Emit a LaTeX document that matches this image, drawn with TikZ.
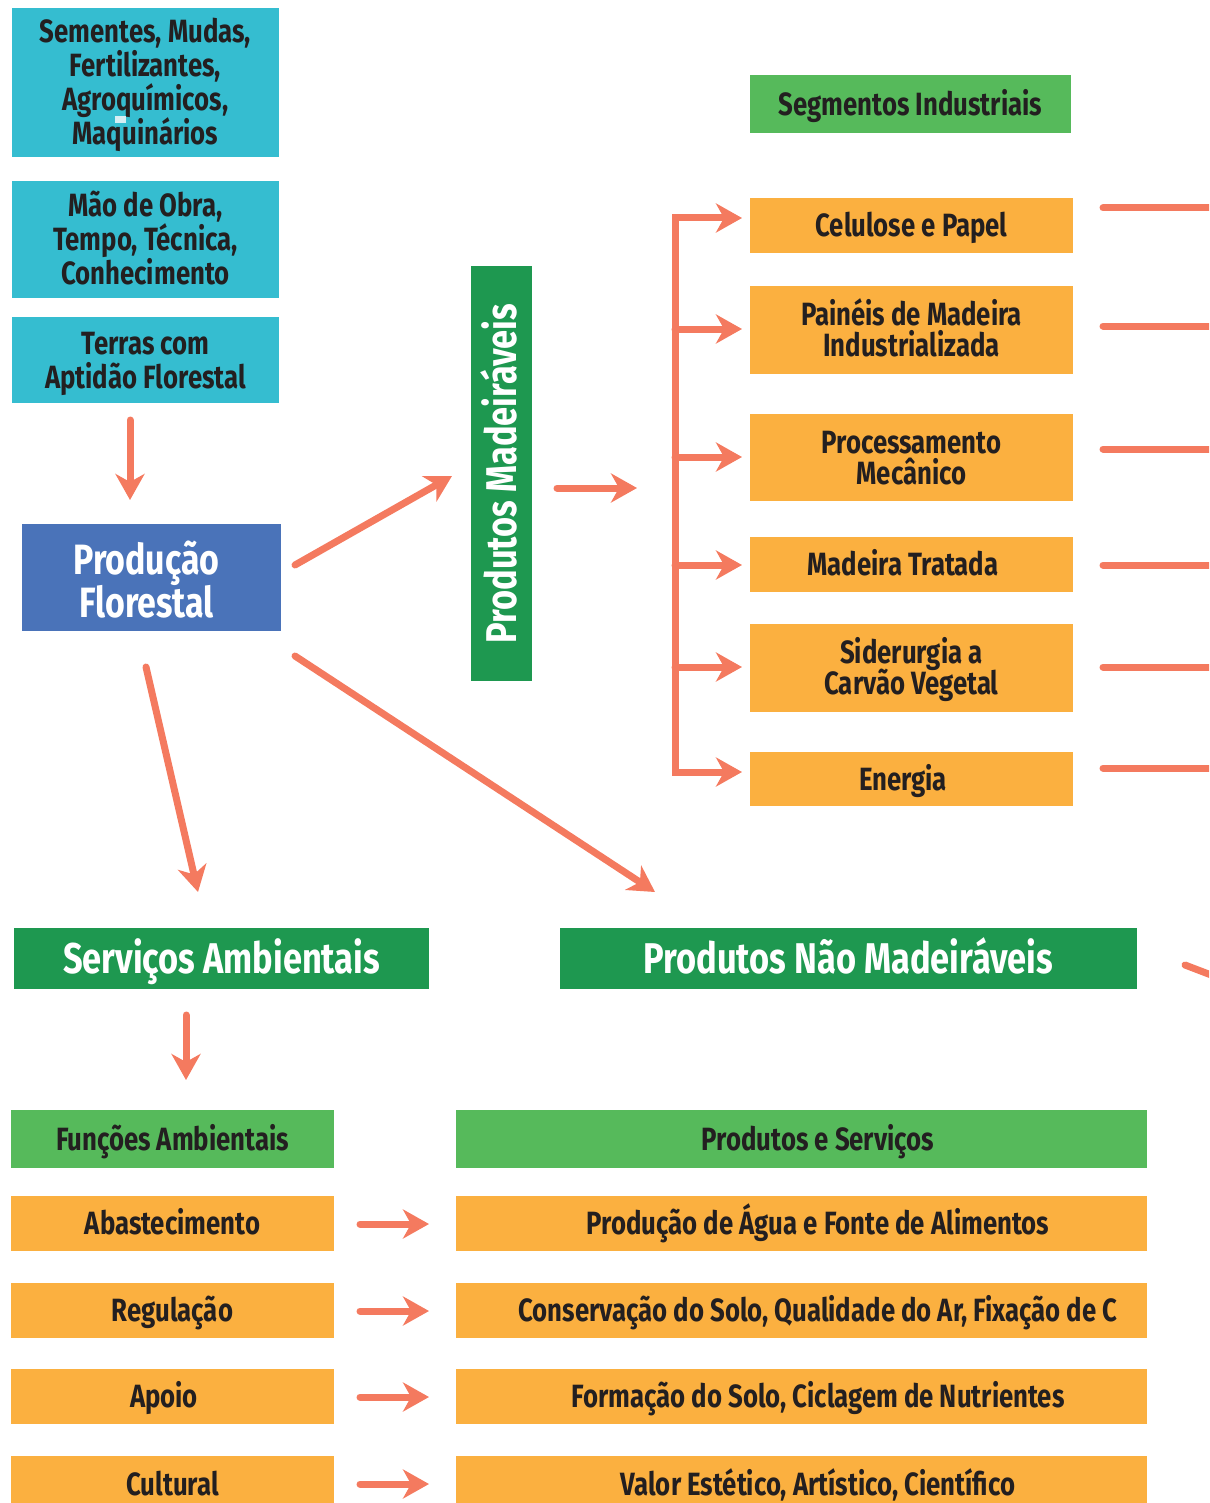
\documentclass[tikz,border=0pt]{standalone}
\usepackage{fontspec}
\setmainfont{Fira Sans}[FakeStretch=0.8]
\usetikzlibrary{arrows.meta,calc}
\definecolor{cyanbox}{HTML}{35BDD0}
\definecolor{bluebox}{HTML}{4A73B9}
\definecolor{dkgreen}{HTML}{1E9850}
\definecolor{ltgreen}{HTML}{56BA5B}
\definecolor{orangebox}{HTML}{FBB040}
\definecolor{salmon}{HTML}{F47A5F}
\definecolor{ink}{HTML}{231F20}
\definecolor{speck}{HTML}{D6EEF4}
\newcommand\boxnode[7]{\node[#6, minimum width={0.5pt*(#4-#2)}, minimum height={0.5pt*(#5-#3)}] (#1) at ({(#2+#4)/2},{(#3+#5)/2}) {#7};}
\newcommand\padw[1]{\rule{#1}{0pt}}
\tikzset{
 base/.style={inner sep=0pt, outer sep=0pt, align=center, text=ink,
   font=\bfseries\fontsize{16.1}{17}\selectfont, text height=11.1pt, text depth=0pt},
 cyanb/.style={base, fill=cyanbox},
 oranb/.style={base, fill=orangebox, font=\bfseries\fontsize{16.1}{15.5}\selectfont},
 ltgb/.style={base, fill=ltgreen},
 dkgb/.style={base, fill=dkgreen, text=white, font=\bfseries\fontsize{21.5}{22}\selectfont, text height=14.8pt},
 blueb/.style={base, fill=bluebox, text=white, font=\bfseries\fontsize{21.2}{21.5}\selectfont},
 nl/.style={text height=#1},
 conn/.style={draw=salmon, line width=3.5pt, line cap=round},
 arr/.style={conn, -{Stealth[length=13pt,width=14.5pt,inset=4pt]}},
}
\begin{document}
\setlength{\lineskiplimit}{-50pt}
\begin{tikzpicture}[x=0.5pt,y=-0.5pt]
\useasboundingbox (0,0) rectangle (1209,1503);
\clip (0,0) rectangle (1209,1503);
% left inputs
\boxnode{c1}{12}{8}{279}{157}{cyanb,nl=62.1pt}{Sementes, Mudas,\\Fertilizantes,\\Agroquímicos,\\Maquinários}
\fill[speck] (115,116) rectangle (126,123);
\boxnode{c2}{12}{181}{279}{298}{cyanb,nl=45.1pt}{Mão de Obra,\\Tempo, Técnica,\\Conhecimento}
\boxnode{c3}{12}{317}{279}{403}{cyanb,nl=28.1pt}{Terras com\\Aptidão Florestal}
\boxnode{pf}{22}{524}{281}{631}{blueb,nl=39.5pt}{Produção\padw{5pt}\\Florestal\padw{5pt}}
% vertical green
\node[dkgb, rotate=90, minimum width={0.5pt*(681-266)}, minimum height={0.5pt*(532-471)}] (pm) at (501.5,473.5) {Produtos Madeiráveis};
% industrial segments
\boxnode{seg}{750}{75}{1071}{133}{ltgb}{Segmentos Industriais}
\boxnode{cel}{750}{198}{1073}{253}{oranb}{Celulose e Papel}
\boxnode{pan}{750}{286}{1073}{374}{oranb,nl=26.6pt}{Painéis de Madeira\\Industrializada}
\boxnode{proc}{750}{414}{1073}{501}{oranb,nl=26.6pt}{Processamento\\Mecânico}
\boxnode{mad}{750}{537}{1073}{592}{oranb}{Madeira Tratada\padw{8.5pt}}
\boxnode{sid}{750}{624}{1073}{712}{oranb,nl=26.6pt}{Siderurgia a\\Carvão Vegetal}
\boxnode{ene}{750}{752}{1073}{806}{oranb}{Energia\padw{8.5pt}}
% bottom green
\boxnode{sa}{14}{928}{429}{989}{dkgb}{Serviços Ambientais}
\boxnode{pnm}{560}{928}{1137}{989}{dkgb}{Produtos Não Madeiráveis}
\boxnode{fa}{11}{1110}{334}{1168}{ltgb}{Funções Ambientais}
\boxnode{ps}{456}{1110}{1147}{1168}{ltgb}{\padw{16.5pt}Produtos e Serviços}
\boxnode{l1}{11}{1196}{334}{1251}{oranb}{Abastecimento}
\boxnode{l2}{11}{1283}{334}{1338}{oranb}{Regulação}
\boxnode{l3}{11}{1369}{334}{1424}{oranb}{Apoio\padw{8.5pt}}
\boxnode{l4}{11}{1456}{334}{1513}{oranb}{Cultural}
\boxnode{r1}{456}{1196}{1147}{1251}{oranb}{\padw{16.5pt}Produção de Água e Fonte de Alimentos}
\boxnode{r2}{456}{1283}{1147}{1338}{oranb}{\padw{16.5pt}Conservação do Solo, Qualidade do Ar, Fixação de C}
\boxnode{r3}{456}{1369}{1147}{1424}{oranb}{\padw{16.5pt}Formação do Solo, Ciclagem de Nutrientes}
\boxnode{r4}{456}{1456}{1147}{1513}{oranb}{\padw{16.5pt}Valor Estético, Artístico, Científico}
% connectors
\draw[arr] ($(c3.south)+(-15.5,17)$) -- ($(pf.north)+(-21.5,-24)$);
\draw[arr] ($(pf.east)+(14,-12.5)$) -- ($(pm.north)+(-19,2.5)$);
\coordinate (spT) at (675,218);
\coordinate (spB) at (675,772);
\draw[arr] ($(pm.south)+(25,14.5)$) -- ($(spT|-pm.south)+(-38,14.5)$);
\draw[arr] (spB) -- (spT) -- ($(cel.west)+(-8,-7.5)$);
\draw[arr] (spT) -- (spB) -- ($(ene.west)+(-8,-7)$);
\draw[arr] ($(spT|-pan.west)+(0,-1)$) -- ($(pan.west)+(-8,-1)$);
\draw[arr] ($(spT|-proc.west)+(0,-0.5)$) -- ($(proc.west)+(-8,-0.5)$);
\draw[arr] ($(spT|-mad.west)+(0,0.5)$) -- ($(mad.west)+(-8,0.5)$);
\draw[arr] ($(spT|-sid.west)+(0,-1)$) -- ($(sid.west)+(-8,-1)$);
\draw[conn] ($(cel.east)+(30,-17.5)$) -- ($(cel.east)+(180,-17.5)$);
\draw[conn] ($(pan.east)+(30,-4)$) -- ($(pan.east)+(180,-4)$);
\draw[conn] ($(proc.east)+(30,-8.5)$) -- ($(proc.east)+(180,-8.5)$);
\draw[conn] ($(mad.east)+(30,0.5)$) -- ($(mad.east)+(180,0.5)$);
\draw[conn] ($(sid.east)+(30,-1)$) -- ($(sid.east)+(180,-1)$);
\draw[conn] ($(ene.east)+(30,-11)$) -- ($(ene.east)+(180,-11)$);
\draw[arr] ($(pf.south east)+(14,25)$) -- ($(pnm.north west)+(95,-36)$);
\draw[arr] ($(pf.south)+(-5.5,36)$) -- ($(sa.north)+(-23.5,-36)$);
\draw[conn] ($(pnm.east)+(48,6.5)$) -- ($(pnm.east)+(103,27.5)$);
\draw[arr] ($(sa.south)+(-35.5,26)$) -- ($(fa.north)+(13.5,-30)$);
\draw[arr] ($(l1.east)+(26,0.5)$) -- ($(r1.west)+(-27,0.5)$);
\draw[arr] ($(l2.east)+(26,0.5)$) -- ($(r2.west)+(-27,0.5)$);
\draw[arr] ($(l3.east)+(26,0.5)$) -- ($(r3.west)+(-27,0.5)$);
\draw[arr] ($(l4.east)+(26,-0.5)$) -- ($(r4.west)+(-27,-0.5)$);
\end{tikzpicture}
\end{document}
